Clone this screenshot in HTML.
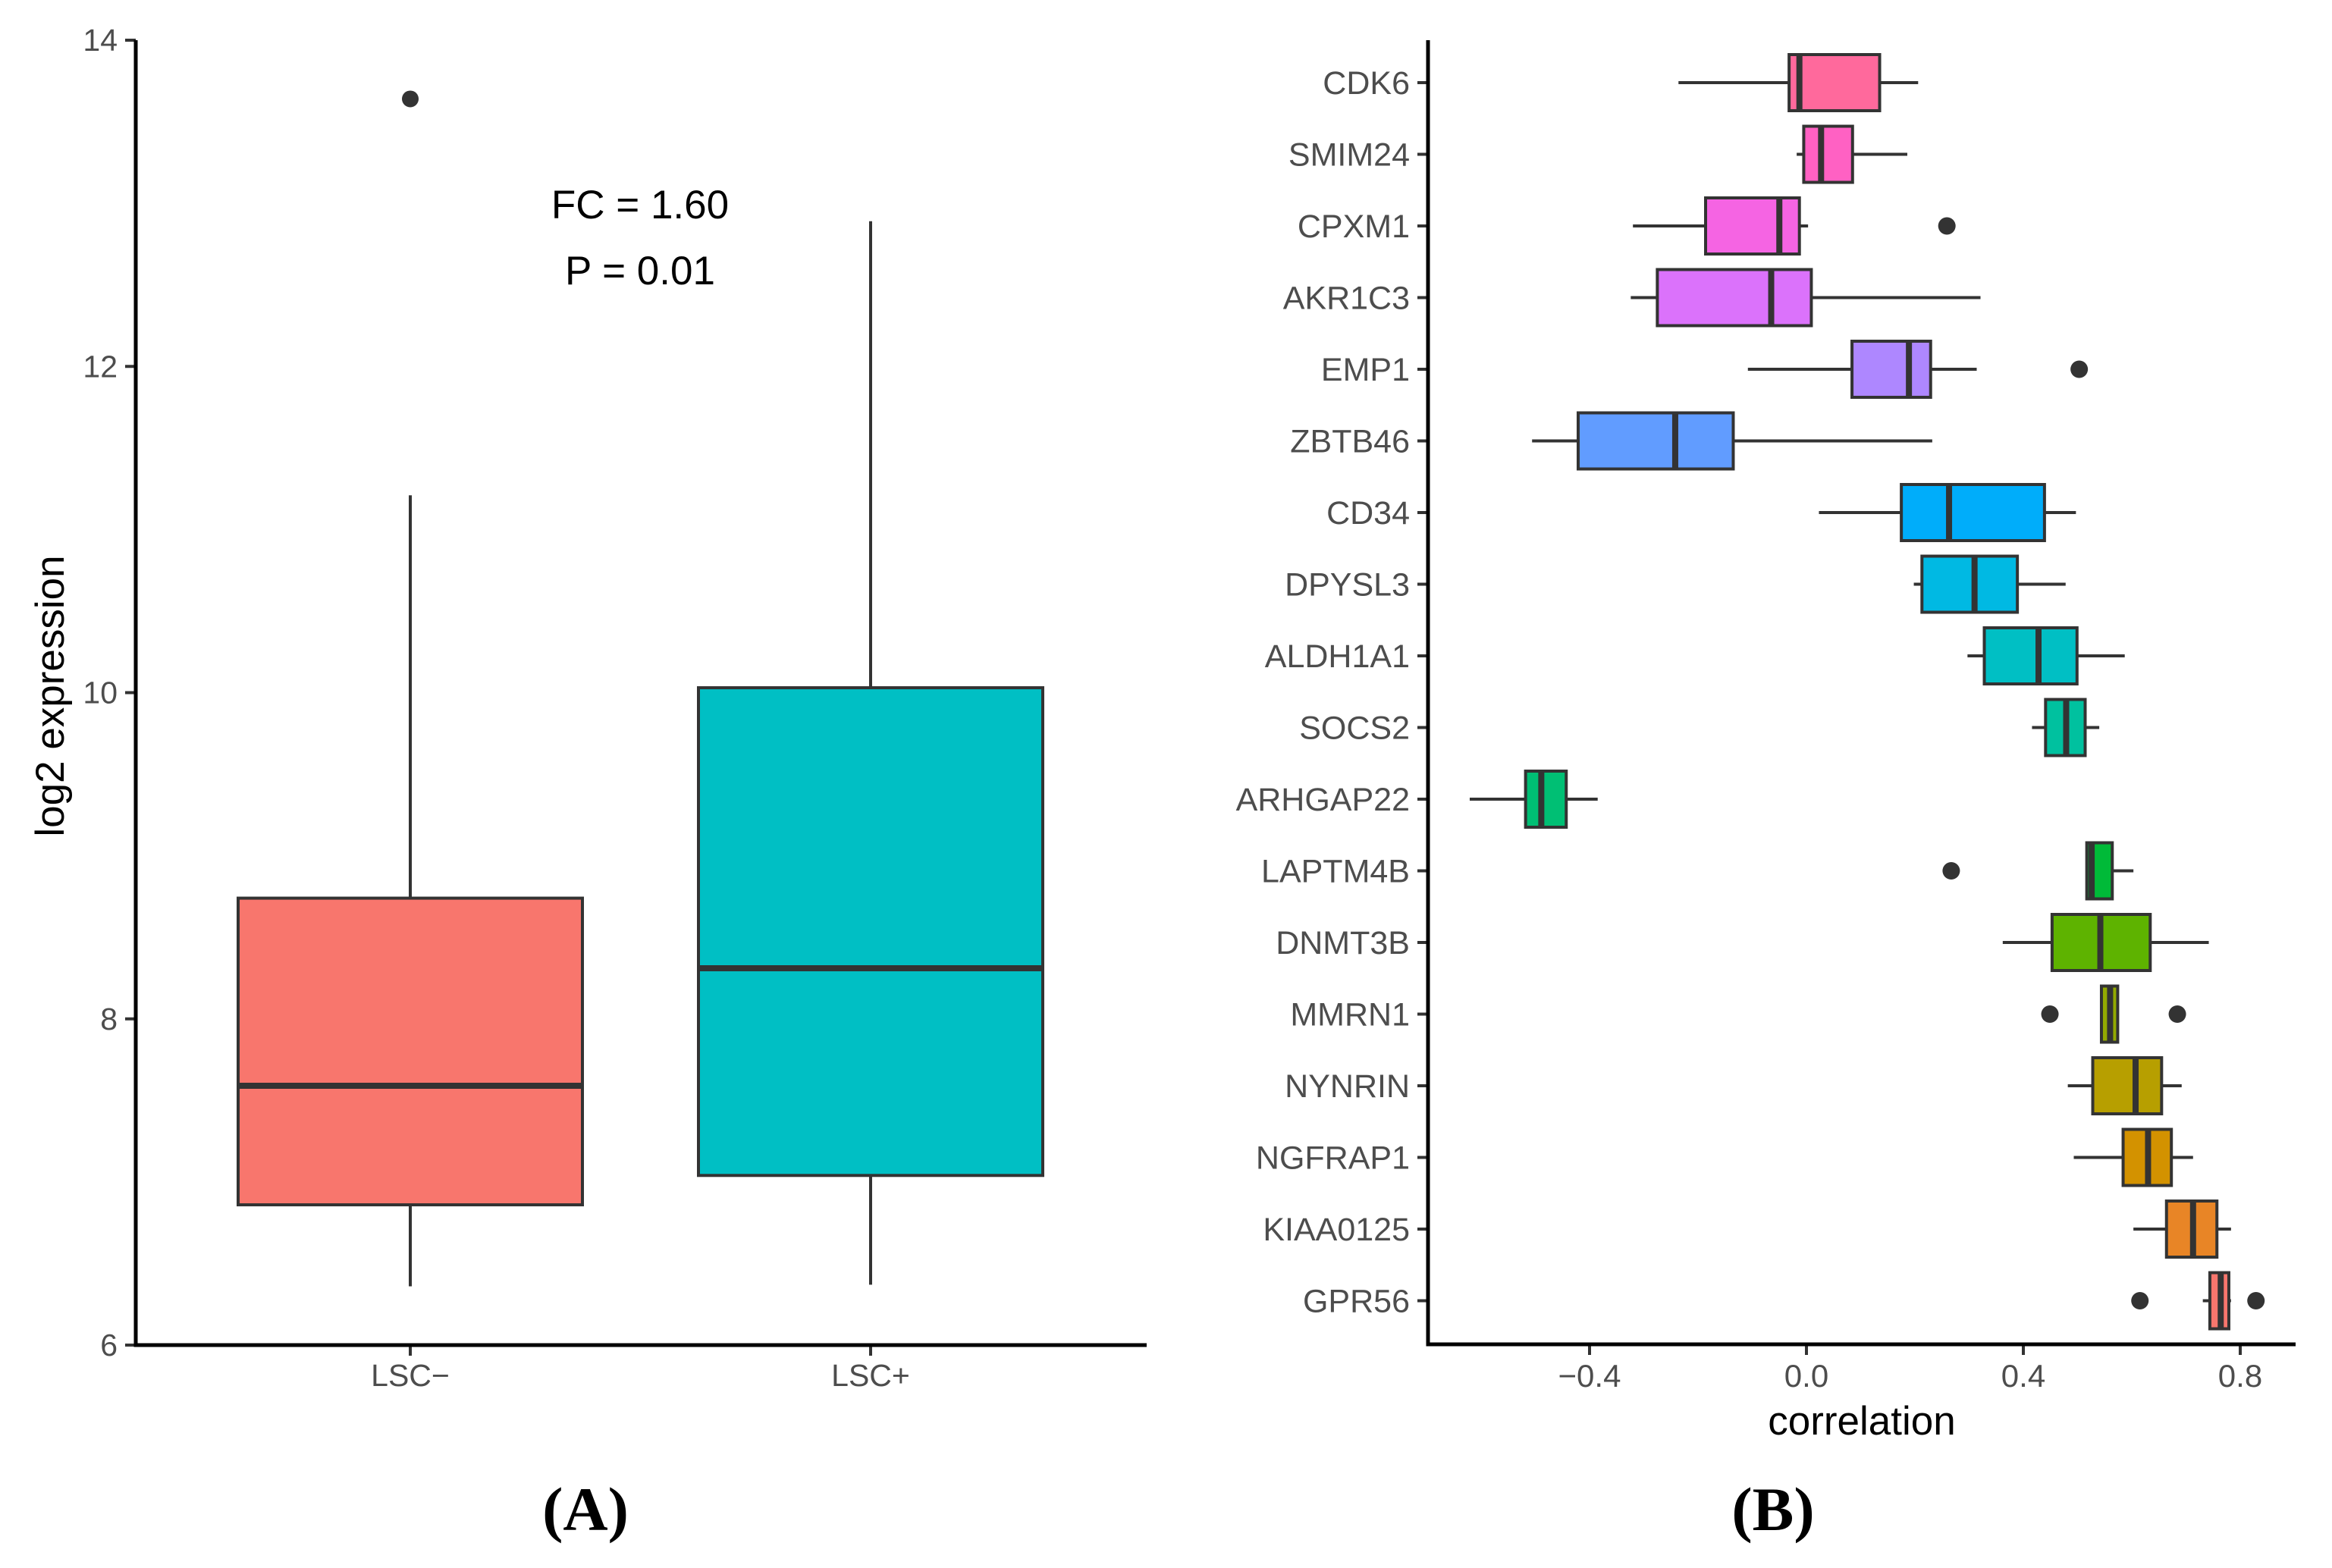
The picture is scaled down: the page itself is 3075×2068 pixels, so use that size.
<!DOCTYPE html>
<html><head><meta charset="utf-8"><style>
html,body{margin:0;padding:0;background:#fff;}
svg{display:block;font-family:"Liberation Sans",Arial,sans-serif;}
</style></head><body>
<svg id="fig" width="3075" height="2068" viewBox="0 0 3075 2068" xmlns="http://www.w3.org/2000/svg">
<g id="pa"></g>
<g id="pb"></g>
</svg>
<script>
// Panel A data
const groupsA = ["LSC\u2212", "LSC+"];
const lowA = [6.36, 6.37];
const q1A = [6.86, 7.04];
const medA = [7.59, 8.31];
const q3A = [8.74, 10.03];
const highA = [11.21, 12.89];
const outA = [[13.64], []];
const yTicksA = [6, 8, 10, 12, 14];
const colorsA = ["#F8766D", "#00BFC4"];

// Panel B data
const genes = ["CDK6","SMIM24","CPXM1","AKR1C3","EMP1","ZBTB46","CD34","DPYSL3","ALDH1A1","SOCS2","ARHGAP22","LAPTM4B","DNMT3B","MMRN1","NYNRIN","NGFRAP1","KIAA0125","GPR56"];
const lowB  = [-0.236,-0.018,-0.320,-0.324,-0.108,-0.506,0.023,0.198,0.297,0.416,-0.621,0.517,0.362,0.544,0.482,0.493,0.603,0.731];
const q1B   = [-0.032,-0.005,-0.186,-0.275,0.084,-0.421,0.175,0.213,0.328,0.441,-0.518,0.517,0.453,0.544,0.528,0.584,0.664,0.744];
const medB  = [-0.013,0.027,-0.050,-0.065,0.189,-0.242,0.263,0.310,0.428,0.479,-0.489,0.526,0.542,0.560,0.607,0.630,0.713,0.764];
const q3B   = [0.135,0.085,-0.013,0.009,0.229,-0.135,0.439,0.389,0.499,0.514,-0.443,0.564,0.634,0.574,0.655,0.673,0.757,0.779];
const highB = [0.206,0.186,0.003,0.321,0.314,0.232,0.497,0.478,0.587,0.540,-0.385,0.603,0.742,0.574,0.692,0.713,0.783,0.783];
const outB  = [[],[],[0.259],[],[0.503],[],[],[],[],[],[],[0.267],[],[0.449,0.684],[],[],[],[0.615,0.829]];
const xTicksB = [-0.4, 0.0, 0.4, 0.8];
const xTickLabelsB = ["\u22120.4","0.0","0.4","0.8"];

const NS = "http://www.w3.org/2000/svg";
function mk(parent, tag, attrs, text){
  const e = document.createElementNS(NS, tag);
  for (const k in attrs) e.setAttribute(k, attrs[k]);
  if (text !== undefined) e.textContent = text;
  parent.appendChild(e);
  return e;
}
function hcl(h){ // ggplot hue: hcl(h, 100, 65)
  const L=65,C=100,hr=h*Math.PI/180;
  const u=C*Math.cos(hr), v=C*Math.sin(hr);
  const Xn=95.047,Yn=100,Zn=108.883;
  const un=4*Xn/(Xn+15*Yn+3*Zn), vn=9*Yn/(Xn+15*Yn+3*Zn);
  const Y = L>8 ? Yn*Math.pow((L+16)/116,3) : Yn*L/903.3;
  const up=u/(13*L)+un, vp=v/(13*L)+vn;
  const X = Y*9*up/(4*vp), Z = Y*(12-3*up-20*vp)/(4*vp);
  let r=( 3.2406*X-1.5372*Y-0.4986*Z)/100, g=(-0.9689*X+1.8758*Y+0.0415*Z)/100, b=(0.0557*X-0.2040*Y+1.0570*Z)/100;
  const f=c=>{c=c<=0.0031308?12.92*c:1.055*Math.pow(c,1/2.4)-0.055;return Math.round(Math.max(0,Math.min(1,c))*255);};
  return "rgb("+f(r)+","+f(g)+","+f(b)+")";
}
const dark = "#333333";

// ---------- Panel A ----------
const pa = document.getElementById("pa");
const ayTop = 53, ayBot = 1774, axLeft = 179, axRight = 1512;
const yA = v => ayBot - (v - 6) * (ayBot - ayTop) / 8;
const xA = i => 541 + i * 607;
const halfW = 227;
groupsA.forEach((g, i) => {
  const cx = xA(i);
  const wl = mk(pa, "line", {x1:cx, x2:cx, y1:yA(highA[i]), y2:yA(q3A[i]), stroke:dark, "stroke-width":4});
  
  
  const wl2 = mk(pa, "line", {x1:cx, x2:cx, y1:yA(q1A[i]), y2:yA(lowA[i]), stroke:dark, "stroke-width":4});
  
  
  const box = mk(pa, "rect", {x:cx-halfW, y:yA(q3A[i]), width:2*halfW, height:yA(q1A[i])-yA(q3A[i]), fill:colorsA[i], stroke:dark, "stroke-width":4});
  
  
  const md = mk(pa, "line", {x1:cx-halfW, x2:cx+halfW, y1:yA(medA[i]), y2:yA(medA[i]), stroke:dark, "stroke-width":8});
  
  
  outA[i].forEach(o => {
    const c = mk(pa, "circle", {cx:cx, cy:yA(o), r:11, fill:dark});
    
    
  });
  const t = mk(pa, "line", {x1:cx, x2:cx, y1:ayBot, y2:ayBot+14, stroke:dark, "stroke-width":4});
  
  
  const lb = mk(pa, "text", {x:cx, y:1828, "font-size":41, fill:"#4d4d4d", "text-anchor":"middle"}, g);
  
  
});
yTicksA.forEach(v => {
  const t = mk(pa, "line", {x1:axLeft-14, x2:axLeft, y1:yA(v), y2:yA(v), stroke:dark, "stroke-width":4});
  
  
  const lb = mk(pa, "text", {x:axLeft-24, y:yA(v)+14, "font-size":41, fill:"#4d4d4d", "text-anchor":"end"}, String(v));
  
  
});
{
  const ax = mk(pa, "path", {d:`M${axLeft} ${ayTop} V${ayBot} H${axRight}`, fill:"none", stroke:"#000", "stroke-width":5});
  
  
  const yt = mk(pa, "text", {x:0, y:0, "font-size":53, fill:"#000", "text-anchor":"middle", transform:"translate(84,918) rotate(-90)"}, "log2 expression");
  
  
  const fc = mk(pa, "text", {x:844, y:288, "font-size":53, fill:"#000", "text-anchor":"middle"}, "FC = 1.60");
  
  
  const p = mk(pa, "text", {x:844, y:375, "font-size":53, fill:"#000", "text-anchor":"middle"}, "P = 0.01");
  
  
  const pl = mk(pa, "text", {x:772, y:2018, "font-size":82, "font-weight":"bold", "font-family":"'Liberation Serif',serif", fill:"#000", "text-anchor":"middle"}, "(A)");
  
  
}

// ---------- Panel B ----------
const pb = document.getElementById("pb");
const bxLeft = 1883, bxRight = 3027, byTop = 53, byBot = 1773;
const xB = v => 2382 + v * 715;
const yB = i => 109 + i * 94.5;
const bh = 37;
genes.forEach((g, i) => {
  const cy = yB(i);
  const col = hcl(15 + 20 * (genes.length - 1 - i));
  const w1 = mk(pb, "line", {x1:xB(lowB[i]), x2:xB(q1B[i]), y1:cy, y2:cy, stroke:dark, "stroke-width":4});
  
  
  const w2 = mk(pb, "line", {x1:xB(q3B[i]), x2:xB(highB[i]), y1:cy, y2:cy, stroke:dark, "stroke-width":4});
  
  
  const box = mk(pb, "rect", {x:xB(q1B[i]), y:cy-bh, width:Math.max(1,xB(q3B[i])-xB(q1B[i])), height:2*bh, fill:col, stroke:dark, "stroke-width":4});
  
  
  const md = mk(pb, "line", {x1:xB(medB[i]), x2:xB(medB[i]), y1:cy-bh, y2:cy+bh, stroke:dark, "stroke-width":8});
  
  
  outB[i].forEach(o => {
    const c = mk(pb, "circle", {cx:xB(o), cy:cy, r:11.5, fill:dark});
    
    
  });
  const t = mk(pb, "line", {x1:bxLeft-14, x2:bxLeft, y1:cy, y2:cy, stroke:dark, "stroke-width":4});
  
  
  const lb = mk(pb, "text", {x:bxLeft-24, y:cy+15, "font-size":43, fill:"#4d4d4d", "text-anchor":"end"}, g);
  
  
});
xTicksB.forEach((v, k) => {
  const t = mk(pb, "line", {x1:xB(v), x2:xB(v), y1:byBot, y2:byBot+14, stroke:dark, "stroke-width":4});
  
  
  const lb = mk(pb, "text", {x:xB(v), y:1829, "font-size":42, fill:"#4d4d4d", "text-anchor":"middle"}, xTickLabelsB[k]);
  
  
});
{
  const ax = mk(pb, "path", {d:`M${bxLeft} ${byTop} V${byBot} H${bxRight}`, fill:"none", stroke:"#000", "stroke-width":5});
  
  
  const xt = mk(pb, "text", {x:2455, y:1892, "font-size":53, fill:"#000", "text-anchor":"middle"}, "correlation");
  
  
  const pl = mk(pb, "text", {x:2338, y:2018, "font-size":82, "font-weight":"bold", "font-family":"'Liberation Serif',serif", fill:"#000", "text-anchor":"middle"}, "(B)");
  
  
}
</script>
</body></html>
